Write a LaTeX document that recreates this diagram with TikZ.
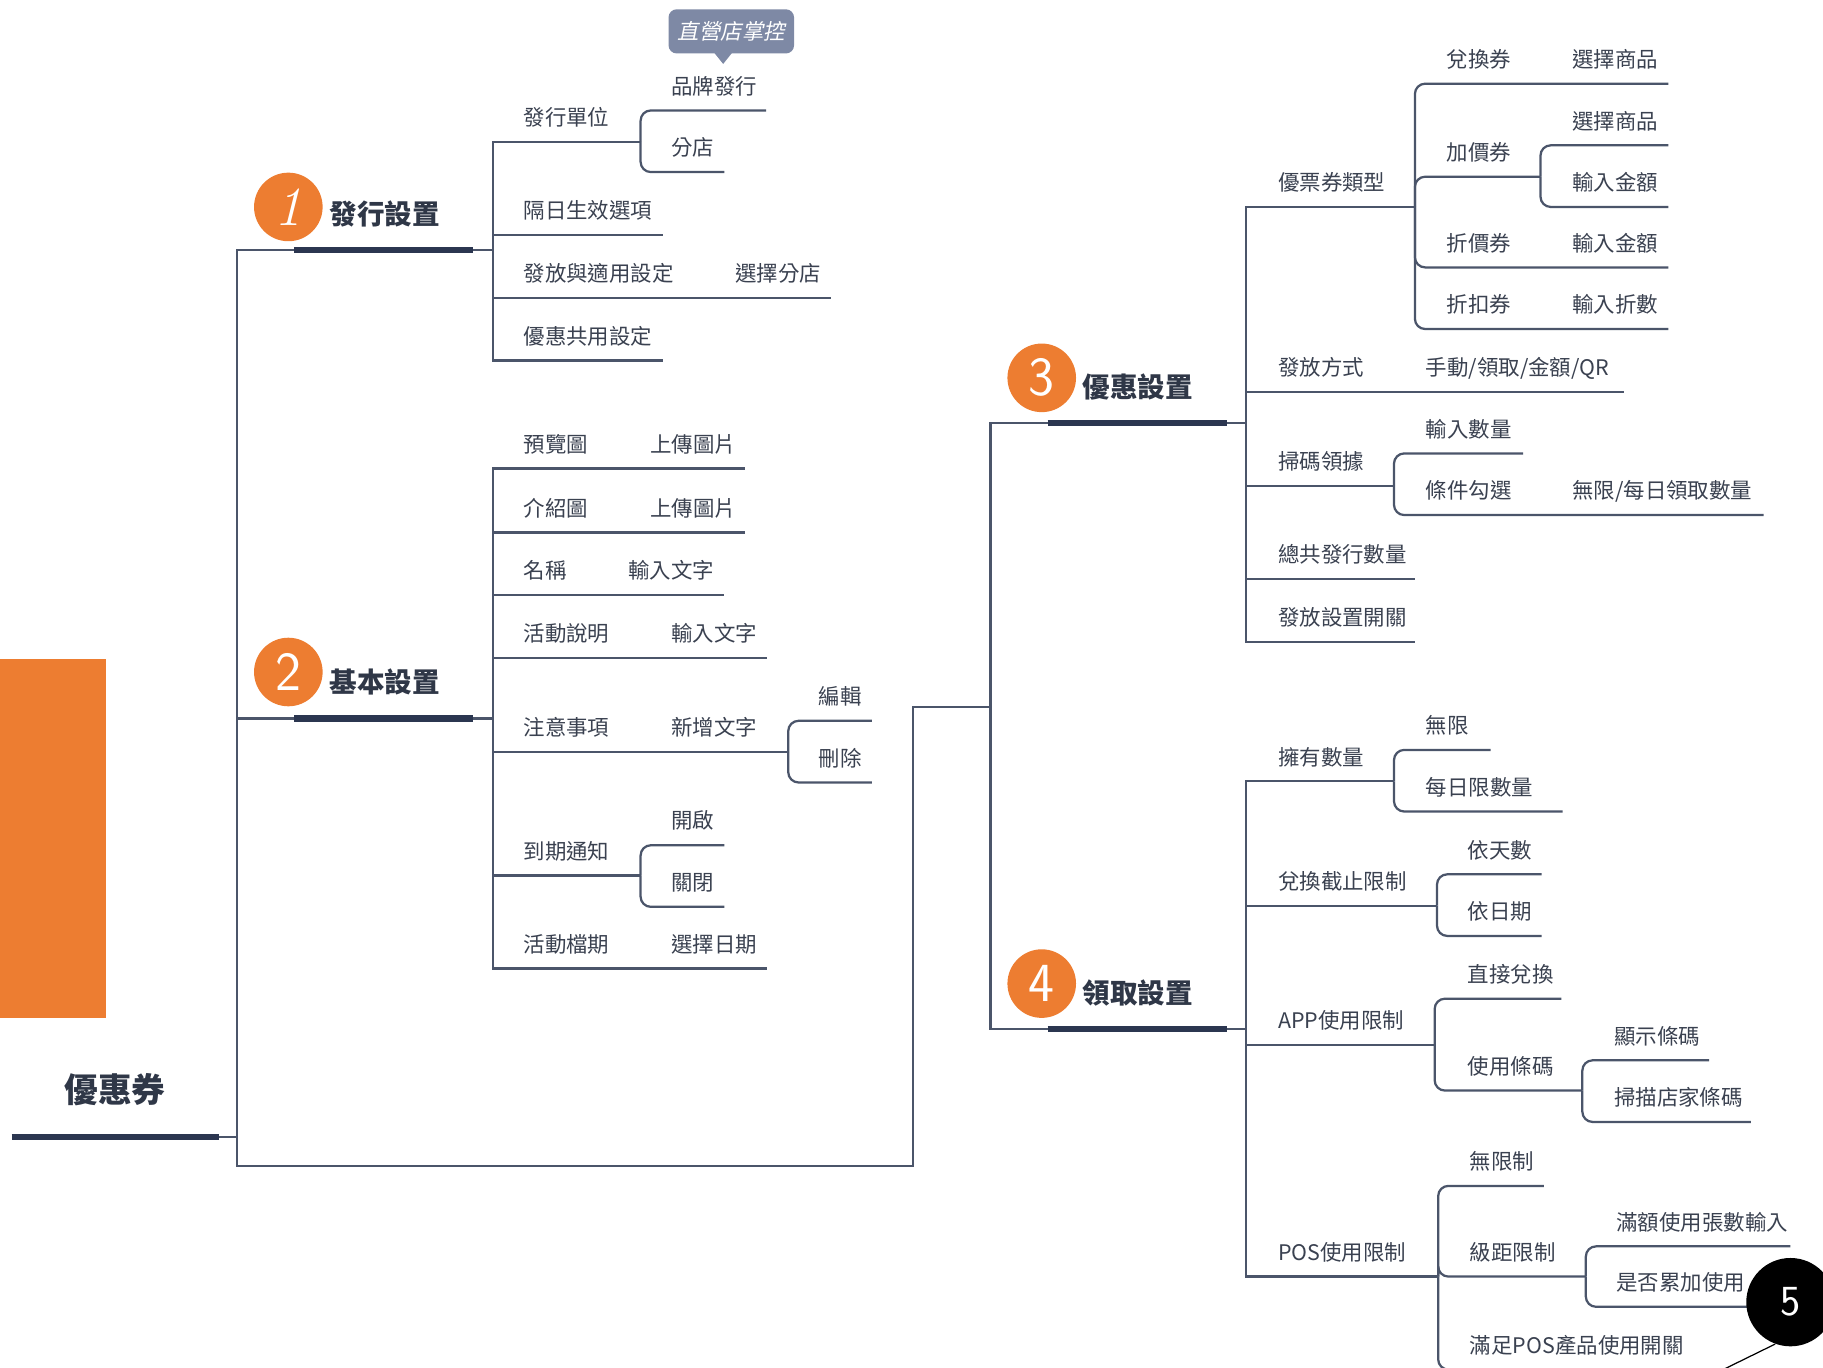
\documentclass[tikz,border=0pt]{standalone}
\usepackage{fontspec}
\newfontfamily\cjk{Noto Sans CJK TC}
\newfontfamily\cjkit[FakeSlant=0.2]{Noto Sans CJK TC}
\usetikzlibrary{calc}

\definecolor{linec}{HTML}{4B556A}
\definecolor{barc}{HTML}{2B3650}
\definecolor{txtc}{HTML}{3A4150}
\definecolor{headc}{HTML}{2F3747}
\definecolor{orng}{HTML}{ED7D31}
\definecolor{tipc}{HTML}{7E89A5}

\begin{document}
\begin{tikzpicture}[x=0.02cm,y=-0.02cm,
  ln/.style={draw=linec,line width=1.1pt},
  sub/.style={ln,rounded corners=5pt},
  bar/.style={draw=barc,line width=3pt},
  lab/.style={anchor=base west,inner sep=0,text=txtc,font=\cjk\fontsize{10.5}{12}\selectfont},
  head/.style={anchor=base west,inner sep=0,text=headc,font=\cjk\bfseries\fontsize{13.5}{16}\selectfont},
  num/.style={circle,fill=orng,minimum size=1.18cm,inner sep=0,text=white,font=\sffamily\fontsize{27}{27}\selectfont}]
\useasboundingbox (0,0) rectangle (1568,1176);

\fill[orng] (0,567) rectangle (91,876);

% root
\node[anchor=base west,inner sep=0,text=headc,font=\cjk\bfseries\fontsize{16.5}{18}\selectfont] (root) at (55,948) {優惠券};
\coordinate (j0) at (204,978);
\coordinate (j1) at (424,215);
\coordinate (j2) at (424,618);
\coordinate (j34) at (852,608);
\coordinate (j3) at (1072,364);
\coordinate (j4) at (1072,885);
\draw[ln] (188,978) -- (j0);
\draw[ln] (j0) |- (j1);
\draw[ln] (j0) |- (j2);
\draw[ln] (j0) |- (785,1003) |- (j34);
\draw[ln] (j34) |- (j3);
\draw[ln] (j34) |- (j4);
\draw[bar] (10,978) -- (188,978);
\foreach \x/\y in {253/215,253/618,901/364,901/885} \draw[bar] (\x,\y) -- (\x+154,\y);

% topic heads
\node[num] (n1) at (248,178) {\rmfamily\itshape 1};
\node[head] (h1) at (283,193) {發行設置};
\node[num] (n2) at (248,578) {2};
\node[head] (h2) at (283,596) {基本設置};
\node[num] (n3) at (896,325) {3};
\node[head] (h3) at (931,342) {優惠設置};
\node[num] (n4) at (896,846) {4};
\node[head] (h4) at (931,863) {領取設置};

% 1 發行設置
\foreach \y/\xe/\t [count=\i] in {122/551/發行單位,202/570/隔日生效選項,256/715/發放與適用設定,310/570/優惠共用設定}{
  \draw[ln] (j1) |- (\xe,\y);
  \node[lab] (a\i) at (450,\y-14) {\t};
}
\node[lab] (a3v) at (632,242) {選擇分店};
\coordinate (j1a) at (551,122);
\foreach \y/\xe/\t [count=\i] in {95/659/品牌發行,148/623/分店}{
  \draw[sub] (j1a) |- (\xe,\y);
  \node[lab] (a1\i) at (577,\y-14) {\t};
}
\fill[tipc,rounded corners=4pt] (575,8) rectangle (683,46);
\fill[tipc] (614,45) -- (630,45) -- (622,55) -- cycle;
\node[text=white,inner sep=0,font=\cjkit\fontsize{10.5}{12}\selectfont] (tip) at (629,27) {直營店掌控};

% 2 基本設置
\foreach \y/\xe/\t [count=\i] in {403/641/預覽圖,458/641/介紹圖,512/623/名稱,566/660/活動說明,647/678/注意事項,753/551/到期通知,833/660/活動檔期}{
  \draw[ln] (j2) |- (\xe,\y);
  \node[lab] (b\i) at (450,\y-14) {\t};
}
\foreach \y/\x/\t [count=\i] in {403/559/上傳圖片,458/559/上傳圖片,512/540/輸入文字,566/577/輸入文字,647/577/新增文字,833/577/選擇日期}
  \node[lab] (bv\i) at (\x,\y-14) {\t};
\coordinate (j2a) at (678,647);
\foreach \y/\t [count=\i] in {620/編輯,673/刪除}{
  \draw[sub] (j2a) |- (750,\y);
  \node[lab] (b5\i) at (704,\y-14) {\t};
}
\coordinate (j2b) at (551,753);
\foreach \y/\t [count=\i] in {727/開啟,780/關閉}{
  \draw[sub] (j2b) |- (623,\y);
  \node[lab] (b6\i) at (577,\y-14) {\t};
}

% 3 優惠設置
\foreach \y/\xe/\t [count=\i] in {178/1217/優票券類型,337/1397/發放方式,418/1199/掃碼領據,498/1217/總共發行數量,552/1217/發放設置開關}{
  \draw[ln] (j3) |- (\xe,\y);
  \node[lab] (c\i) at (1099,\y-14) {\t};
}
\node[lab] (c2v) at (1226,323) {手動/領取/金額/QR};
\coordinate (j3a) at (1217,178);
\foreach \y/\xe/\t [count=\i] in {72/1435/兌換券,152/1325/加價券,230/1435/折價券,283/1435/折扣券}{
  \draw[sub] (j3a) |- (\xe,\y);
  \node[lab] (c1\i) at (1244,\y-14) {\t};
}
\foreach \y/\t [count=\i] in {72/選擇商品,230/輸入金額,283/輸入折數}
  \node[lab] (c1v\i) at (1352,\y-14) {\t};
\coordinate (j3b) at (1325,152);
\foreach \y/\t [count=\i] in {125/選擇商品,178/輸入金額}{
  \draw[sub] (j3b) |- (1435,\y);
  \node[lab] (c12\i) at (1352,\y-14) {\t};
}
\coordinate (j3c) at (1199,418);
\foreach \y/\xe/\t [count=\i] in {390/1310/輸入數量,443/1517/條件勾選}{
  \draw[sub] (j3c) |- (\xe,\y);
  \node[lab] (c3\i) at (1226,\y-14) {\t};
}
\node[lab] (c32v) at (1352,429) {無限/每日領取數量};

% 4 領取設置
\foreach \y/\xe/\t [count=\i] in {672/1199/擁有數量,779/1236/兌換截止限制,899/1234/APP使用限制,1098/1237/POS使用限制}{
  \draw[ln] (j4) |- (\xe,\y);
  \node[lab] (d\i) at (1099,\y-14) {\t};
}
\coordinate (j4a) at (1199,672);
\foreach \y/\xe/\t [count=\i] in {645/1282/無限,698/1344/每日限數量}{
  \draw[sub] (j4a) |- (\xe,\y);
  \node[lab] (d1\i) at (1226,\y-14) {\t};
}
\coordinate (j4b) at (1236,779);
\foreach \y/\t [count=\i] in {752/依天數,805/依日期}{
  \draw[sub] (j4b) |- (1326,\y);
  \node[lab] (d2\i) at (1262,\y-14) {\t};
}
\coordinate (j4c) at (1234,899);
\foreach \y/\xe/\t [count=\i] in {859/1343/直接兌換,938/1361/使用條碼}{
  \draw[sub] (j4c) |- (\xe,\y);
  \node[lab] (d3\i) at (1262,\y-14) {\t};
}
\coordinate (j4d) at (1361,938);
\foreach \y/\xe/\t [count=\i] in {912/1470/顯示條碼,965/1506/掃描店家條碼}{
  \draw[sub] (j4d) |- (\xe,\y);
  \node[lab] (d32\i) at (1388,\y-14) {\t};
}
\coordinate (j4e) at (1237,1098);
\foreach \y/\xe/\t [count=\i] in {1020/1328/無限制,1098/1364/級距限制,1178/1460/滿足POS產品使用開關}{
  \draw[sub] (j4e) |- (\xe,\y);
  \node[lab] (d4\i) at (1264,\y-14) {\t};
}
\coordinate (j4f) at (1364,1098);
\foreach \y/\xe/\t [count=\i] in {1072/1540/滿額使用張數輸入,1124/1530/是否累加使用}{
  \draw[sub] (j4f) |- (\xe,\y);
  \node[lab] (d42\i) at (1390,\y-14) {\t};
}

% marker 5
\node[circle,fill=black,minimum size=1.52cm,inner sep=0,text=white,font=\sffamily\fontsize{21}{21}\selectfont] (five) at (1540,1120) {5};
\draw[black,line width=0.6pt] (five.250) -- (1478,1180);
\end{tikzpicture}
\end{document}
